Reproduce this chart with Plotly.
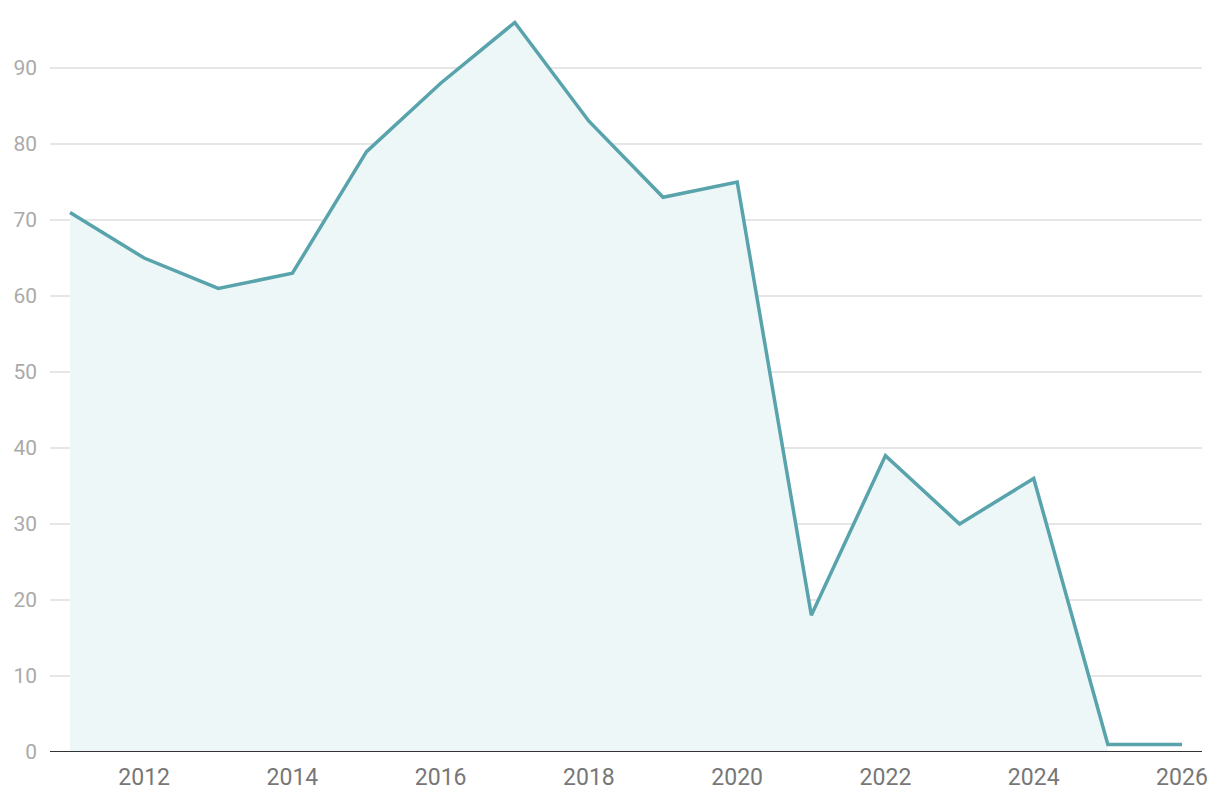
import plotly.graph_objects as go

years = [2011, 2012, 2013, 2014, 2015, 2016, 2017, 2018, 2019, 2020, 2021, 2022, 2023, 2024, 2025, 2026]
values = [71, 65, 61, 63, 79, 88, 96, 83, 73, 75, 18, 39, 30, 36, 1, 1]
fill_years = years[:-1]
fill_values = values[:-1]
x_ticks = [2012, 2014, 2016, 2018, 2020, 2022, 2024, 2026]
y_ticks = [0, 10, 20, 30, 40, 50, 60, 70, 80, 90]

fig = go.Figure()
fig.add_trace(go.Scatter(x=fill_years, y=fill_values, mode="lines", fill="tozeroy",
                         fillcolor="#eef7f8", line=dict(width=0), hoverinfo="skip", showlegend=False))
fig.add_trace(go.Scatter(x=years, y=values, mode="lines",
                         line=dict(color="#58a3ac", width=3.5), showlegend=False))

fig.update_layout(
    width=1220, height=802,
    margin=dict(l=42, r=26, t=0, b=58),
    paper_bgcolor="white", plot_bgcolor="white",
    font=dict(family="Roboto, Liberation Sans, sans-serif"),
    xaxis=dict(range=[2010.73, 2026.27], tickvals=x_ticks, showgrid=False, zeroline=False,
               showline=False, ticks="", ticklabelstandoff=9,
               tickfont=dict(size=23, color="#777777")),
    yaxis=dict(range=[0, 97.9], tickvals=y_ticks, showgrid=True, gridcolor="#e6e6e6", gridwidth=1.5,
               zeroline=False, showline=False, ticks="", ticklabelstandoff=12,
               tickfont=dict(size=21, color="#aaaaaa")),
)
fig.add_shape(type="line", xref="paper", yref="y", x0=0, x1=1, y0=0, y1=0,
              line=dict(color="#333333", width=2))
fig.write_html("out.html")
